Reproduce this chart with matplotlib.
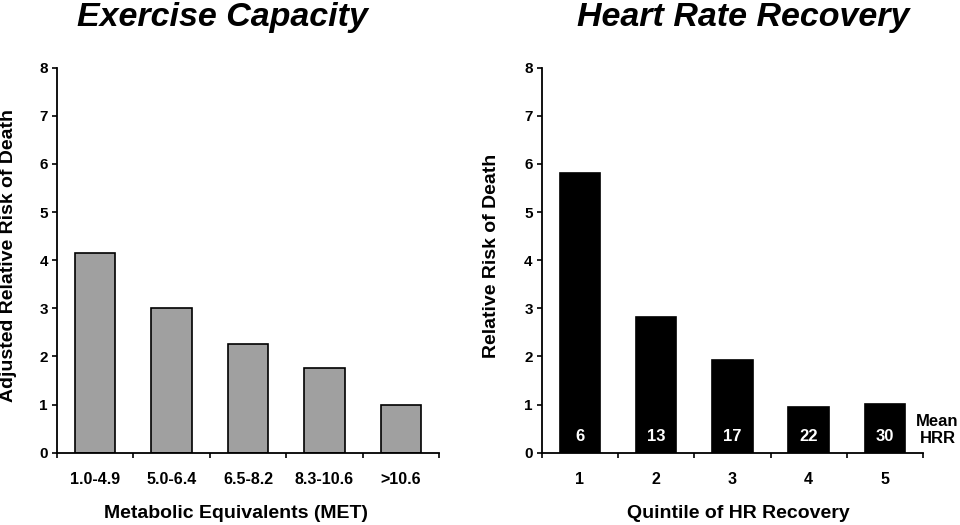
import matplotlib
matplotlib.use("Agg")
import matplotlib.pyplot as plt
import numpy as np

plt.rcParams['font.family'] = ['Liberation Sans', 'DejaVu Sans']
plt.rcParams['font.weight'] = 'bold'

met_categories = ["1.0-4.9", "5.0-6.4", "6.5-8.2", "8.3-10.6", ">10.6"]
met_risk = [4.15, 3.0, 2.25, 1.75, 1.0]

hrr_quintiles = ["1", "2", "3", "4", "5"]
hrr_risk = [5.82, 2.82, 1.92, 0.95, 1.02]
hrr_mean = ["6", "13", "17", "22", "30"]

y_ticks = [0, 1, 2, 3, 4, 5, 6, 7, 8]

W, H = 960, 525
fig = plt.figure(figsize=(W / 100, H / 100), dpi=100)
ax1 = fig.add_axes([0.0594, 0.1377, 0.3979, 0.7333])
ax2 = fig.add_axes([0.5643, 0.1377, 0.3972, 0.7333])


def style(ax, cats):
    n = len(cats)
    ax.set_xlim(-0.5, n - 0.5)
    ax.set_ylim(0, 8)
    ax.set_yticks(y_ticks)
    ax.set_yticklabels([str(t) for t in y_ticks], fontsize=11, fontweight='bold')
    ax.set_xticks(np.arange(n + 1) - 0.5)
    ax.set_xticklabels([])
    ax.set_xticks(np.arange(n), minor=True)
    ax.set_xticklabels(cats, minor=True, fontsize=11.5, fontweight='bold')
    ax.tick_params(axis='x', which='minor', length=0, pad=14)
    ax.tick_params(axis='x', which='major', length=3.5, width=1.2, direction='out')
    ax.tick_params(axis='y', length=3.5, width=1.2, direction='out', pad=3)
    for s in ['top', 'right']:
        ax.spines[s].set_visible(False)
    for s in ['left', 'bottom']:
        ax.spines[s].set_linewidth(1.3)


def fx(px):
    return px / W


def fy(py):
    return 1 - py / H


x = np.arange(len(met_categories))
ax1.bar(x, met_risk, width=0.53, color='#a0a0a0', edgecolor='black', linewidth=1.2)
style(ax1, met_categories)

x2 = np.arange(len(hrr_quintiles))
ax2.bar(x2, hrr_risk, width=0.53, color='black', edgecolor='black', linewidth=1.2)
style(ax2, hrr_quintiles)
for xi, lbl in zip(x2, hrr_mean):
    ax2.text(xi, 0.34, lbl, color='white', fontsize=12, fontweight='bold',
             ha='center', va='center')
ax2.text(4.69, 0.47, "Mean\nHRR", fontsize=12, fontweight='bold', ha='center',
         va='center', clip_on=False, linespacing=1.15)

# titles
fig.text(fx(222), fy(26), "Exercise Capacity", fontsize=24.5, fontweight='bold',
         fontstyle='italic', ha='center', va='baseline')
fig.text(fx(743), fy(26), "Heart Rate Recovery", fontsize=24.5, fontweight='bold',
         fontstyle='italic', ha='center', va='baseline')

# axis labels
fig.text(fx(236), fy(513), "Metabolic Equivalents (MET)", fontsize=14, fontweight='bold',
         ha='center', va='center')
fig.text(fx(738), fy(513), "Quintile of HR Recovery", fontsize=14, fontweight='bold',
         ha='center', va='center')
fig.text(fx(8.5), fy(255.5), "Adjusted Relative Risk of Death", fontsize=14,
         fontweight='bold', rotation=90, ha='center', va='center')
fig.text(fx(491.5), fy(255.5), "Relative Risk of Death", fontsize=14,
         fontweight='bold', rotation=90, ha='center', va='center')

fig.savefig("out.png", dpi=100)
